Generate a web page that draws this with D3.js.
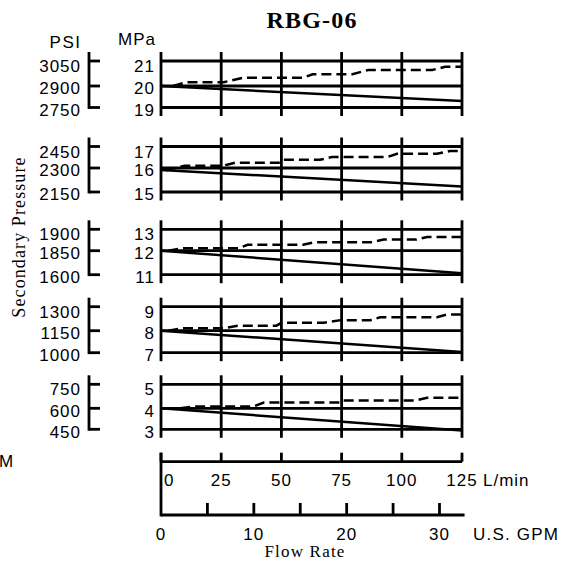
<!DOCTYPE html>
<html><head><meta charset="utf-8">
<script src="https://cdn.jsdelivr.net/npm/d3@7"></script>
<style>body{margin:0;background:#fff} svg{display:block}</style>
</head><body><svg id="c" width="567" height="564"></svg>
<script>
// ---- data ----
const title = "RBG-06";
const mpaTicks = [[21,20,19],[17,16,15],[13,12,11],[9,8,7],[5,4,3]];
const psiTicks = [[3050,2900,2750],[2450,2300,2150],[1900,1850,1600],[1300,1150,1000],[750,600,450]];
const lpmTicks = [0,25,50,75,100,125];
const gpmTicks = [0,5,10,15,20,25,30];
const gpmLabels = [0,10,20,30];
const solidFlow = [0,125];
const solidPressure = [[20,19.3],[15.92,15.23],[12,11.06],[8,7.03],[4,2.94]];
const dashFlow1 = [5,10.4,26,34,59,63,79.5,86,112.7,118,125];
const dashPressure1 = [20.0,20.15,20.15,20.33,20.33,20.47,20.47,20.64,20.64,20.77,20.77];
const dashFlow2 = [2,9.7,25.8,31,49,50.5,66,71,94,98,114.6,120,125];
const dashPressure2 = [15.9,16.1,16.1,16.25,16.25,16.38,16.38,16.51,16.51,16.66,16.66,16.79,16.79];
const dashFlow3 = [3,9,32,36,59,63.5,87,92.5,106,110.5,125];
const dashPressure3 = [12.0,12.11,12.11,12.28,12.28,12.39,12.39,12.52,12.52,12.64,12.64];
const dashFlow4 = [3,9,25.8,31.8,48,50,67.6,74.6,87,91,114.6,118.8,125];
const dashPressure4 = [8.0,8.1,8.1,8.21,8.21,8.33,8.33,8.44,8.44,8.56,8.56,8.68,8.68];
const dashFlow5 = [8,13.8,38.6,42.7,74.6,75.8,106,110.5,125];
const dashPressure5 = [4.0,4.08,4.08,4.24,4.24,4.33,4.33,4.44,4.44];
const dashFlows = [dashFlow1,dashFlow2,dashFlow3,dashFlow4,dashFlow5];
const dashPressures = [dashPressure1,dashPressure2,dashPressure3,dashPressure4,dashPressure5];

// ---- layout ----
const panelRows = [[61,86,107.5],[146.5,168,192],[229.3,250.7,274.7],[306.7,330.7,352.7],[384.3,408.3,429.3]];
const labelOffsets = [5,2.3,2.1];
const SANS = "'Liberation Sans', Arial, sans-serif";
const SERIF = "'Liberation Serif', 'Times New Roman', serif";
const FS = 17, LS = 1;
const svg = d3.select("#c");
const x = d3.scaleLinear().domain([0,125]).range([161,462]);
const g = d3.scaleLinear().domain([0,30]).range([161,439.5]);
const GRID = 2.8, LINE = 2.5;

svg.append("text").attr("x",312).attr("y",28).attr("text-anchor","middle")
  .attr("font-family",SERIF).attr("font-weight","bold").attr("font-size",24).attr("letter-spacing",1.2).text(title);
svg.append("text").attr("x",65.5).attr("y",48).attr("text-anchor","middle")
  .attr("font-family",SANS).attr("font-size",FS).attr("letter-spacing",1.5).text("PSI");
svg.append("text").attr("x",137).attr("y",45).attr("text-anchor","middle")
  .attr("font-family",SANS).attr("font-size",FS).attr("letter-spacing",LS).text("MPa");
svg.append("text").attr("transform","translate(24.5,237) rotate(-90)").attr("text-anchor","middle")
  .attr("font-family",SERIF).attr("font-size",18).attr("letter-spacing",1.1).text("Secondary Pressure");

mpaTicks.forEach((ticks,i)=>{
  const y = d3.scaleLinear().domain(ticks).range(panelRows[i]);
  const top = y(ticks[0]), bot = y(ticks[2]);
  const p = svg.append("g");
  // horizontal grid
  p.selectAll("line.h").data(ticks).join("line")
    .attr("x1",x(0)).attr("x2",x(125)).attr("y1",d=>y(d)).attr("y2",d=>y(d))
    .attr("stroke","#000").attr("stroke-width",GRID);
  // vertical grid
  p.selectAll("line.v").data(lpmTicks).join("line").attr("class","v")
    .attr("x1",d=>x(d)).attr("x2",d=>x(d)).attr("y1",top-9).attr("y2",bot+8.5)
    .attr("stroke","#000").attr("stroke-width",GRID);
  // MPa labels
  p.selectAll("text.m").data(ticks).join("text").attr("class","m")
    .attr("x",155).attr("y",(d,j)=>y(d)+labelOffsets[j]+6.1).attr("text-anchor","end")
    .attr("font-family",SANS).attr("font-size",FS).attr("letter-spacing",LS).text(d=>d);
  // PSI axis
  p.append("line").attr("x1",89).attr("x2",89).attr("y1",top-9).attr("y2",bot+1.4)
    .attr("stroke","#000").attr("stroke-width",GRID);
  p.selectAll("line.pt").data(ticks).join("line").attr("class","pt")
    .attr("x1",89).attr("x2",100).attr("y1",d=>y(d)).attr("y2",d=>y(d))
    .attr("stroke","#000").attr("stroke-width",GRID);
  p.selectAll("text.p").data(psiTicks[i]).join("text").attr("class","p")
    .attr("x",81).attr("y",(d,j)=>y(ticks[j])+labelOffsets[j]+6.1).attr("text-anchor","end")
    .attr("font-family",SANS).attr("font-size",FS).attr("letter-spacing",LS).text(d=>d);
  // data lines
  const line = d3.line().x(d=>x(d[0])).y(d=>y(d[1]));
  p.append("path").attr("d",line(solidFlow.map((f,k)=>[f,solidPressure[i][k]])))
    .attr("fill","none").attr("stroke","#000").attr("stroke-width",LINE);
  p.append("path").attr("d",line(dashFlows[i].map((f,k)=>[f,dashPressures[i][k]])))
    .attr("fill","none").attr("stroke","#000").attr("stroke-width",LINE).attr("stroke-dasharray","10,5");
});

// bottom axes
const LY = 461.7, GY = 515;
svg.append("line").attr("x1",x(0)).attr("x2",x(125)).attr("y1",LY).attr("y2",LY).attr("stroke","#000").attr("stroke-width",GRID);
svg.selectAll("line.lt").data(lpmTicks).join("line").attr("class","lt")
  .attr("x1",d=>x(d)).attr("x2",d=>x(d)).attr("y1",LY-9).attr("y2",LY).attr("stroke","#000").attr("stroke-width",GRID);
svg.append("line").attr("x1",x(0)).attr("x2",x(0)).attr("y1",LY-9).attr("y2",GY+1.4).attr("stroke","#000").attr("stroke-width",GRID);
svg.append("line").attr("x1",g(0)).attr("x2",g(32.7)).attr("y1",GY).attr("y2",GY).attr("stroke","#000").attr("stroke-width",GRID);
svg.selectAll("line.gt").data(gpmTicks.slice(1)).join("line").attr("class","gt")
  .attr("x1",d=>g(d)).attr("x2",d=>g(d)).attr("y1",GY-12).attr("y2",GY).attr("stroke","#000").attr("stroke-width",GRID);
svg.selectAll("text.ll").data(lpmTicks).join("text").attr("class","ll")
  .attr("x",d=>d===0?x(d)+3:x(d)).attr("y",486).attr("text-anchor",d=>d===0?"start":"middle")
  .attr("font-family",SANS).attr("font-size",FS).attr("letter-spacing",LS).text(d=>d);
svg.append("text").attr("x",483).attr("y",486).attr("font-family",SANS).attr("font-size",FS).attr("letter-spacing",LS).text("L/min");
svg.selectAll("text.gl").data(gpmLabels).join("text").attr("class","gl")
  .attr("x",d=>g(d)).attr("y",540).attr("text-anchor","middle")
  .attr("font-family",SANS).attr("font-size",FS).attr("letter-spacing",LS).text(d=>d);
svg.append("text").attr("x",473).attr("y",540).attr("font-family",SANS).attr("font-size",FS).attr("letter-spacing",1.2).text("U.S. GPM");
svg.append("text").attr("x",-1).attr("y",466.5).attr("font-family",SANS).attr("font-size",FS).text("M");
svg.append("text").attr("x",305).attr("y",557).attr("text-anchor","middle")
  .attr("font-family",SERIF).attr("font-size",17).attr("letter-spacing",1.2).text("Flow Rate");
</script></body></html>
